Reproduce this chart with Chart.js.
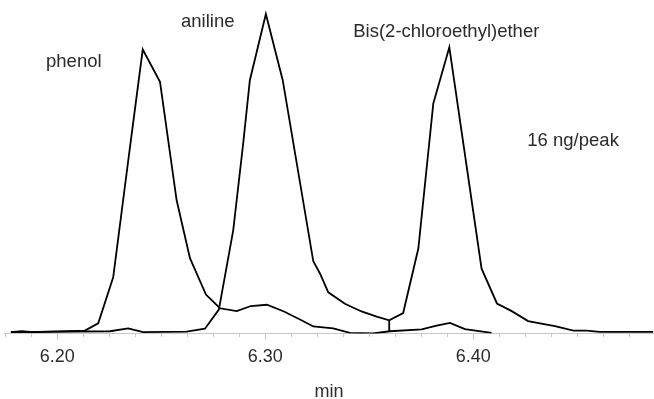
<!DOCTYPE html>
<html>
<head>
<meta charset="utf-8">
<script src="https://cdn.jsdelivr.net/npm/chart.js@4"></script>
<style>
  html, body { margin: 0; padding: 0; background: #fff; }
</style>
</head>
<body>
<canvas id="chart" width="654" height="399"></canvas>
<script>
// Retention time (min) and signal (% of largest peak)
const timePhenol = [6.1777, 6.1829, 6.1883, 6.2133, 6.2197, 6.2269, 6.2340, 6.2411, 6.2494, 6.2574,
  6.2638, 6.2715, 6.2782, 6.2863, 6.2931, 6.3008, 6.3090, 6.3167, 6.3231, 6.3327,
  6.3407, 6.3518, 6.3599, 6.3752, 6.3824, 6.3888, 6.3960, 6.4088];
const signalPhenol = [0.4, 0.7, 0.4, 0.9, 3.2, 17.6, 53.5, 88.9, 78.8, 41.7,
  23.6, 12.2, 7.9, 7.0, 8.6, 9.0, 6.9, 4.4, 2.2, 1.6,
  0.2, 0.0, 0.7, 1.3, 2.5, 3.3, 1.4, 0.2];

const timeAniline = [6.1777, 6.2253, 6.2341, 6.2413, 6.2622, 6.2710, 6.2777, 6.2846, 6.2894, 6.2926,
  6.3003, 6.3084, 6.3231, 6.3263, 6.3303, 6.3383, 6.3463, 6.3536, 6.3596, 6.3663,
  6.3736, 6.3808, 6.3885, 6.4040, 6.4114, 6.4185, 6.4264, 6.4321, 6.4393, 6.4481,
  6.4545, 6.4609, 6.4865];
const signalAniline = [0.4, 0.7, 1.6, 0.4, 0.6, 1.5, 7.5, 32.3, 59.5, 79.3,
  100, 79.3, 22.6, 18.8, 12.9, 9.3, 6.9, 5.3, 4.1, 6.4,
  26.6, 72.0, 89.6, 20.3, 9.4, 7.0, 3.9, 3.2, 2.3, 0.9,
  0.9, 0.5, 0.5];

// drop line between aniline and bis peaks
const timeDrop = [6.3596, 6.3596];
const signalDrop = [4.1, 0.6];

// axis
const majorTicks = [6.20, 6.30, 6.40];
const minorStep = 0.0125;
const axisTitle = 'min';

// peak names and where they sit (min, signal)
const peakNames = ['phenol', 'aniline', 'Bis(2-chloroethyl)ether', '16 ng/peak'];
const labelTimes = [6.1946, 6.2595, 6.3423, 6.4260];
const labelLevels = [83.4, 96.0, 92.9, 58.7];

const fontFamily = '"Liberation Sans", Arial, sans-serif';
const textColor = '#2b2b2b';
const axisColor = '#c8c8c8';

function toPoints(xs, ys) {
  return xs.map((x, i) => ({ x: x, y: ys[i] }));
}

function lineSet(xs, ys) {
  return {
    data: toPoints(xs, ys),
    borderColor: '#000',
    borderWidth: 1.8,
    borderJoinStyle: 'miter',
    pointRadius: 0,
    tension: 0,
    fill: false
  };
}

// small ticks between the labelled ones
const minorTickPlugin = {
  id: 'minorTicks',
  afterDraw(chart) {
    const xs = chart.scales.x;
    const ctx = chart.ctx;
    const bottom = chart.chartArea.bottom;
    ctx.save();
    ctx.strokeStyle = axisColor;
    ctx.lineWidth = 1;
    const start = Math.ceil(xs.min / minorStep) * minorStep;
    for (let v = start; v <= xs.max + 1e-9; v += minorStep) {
      if (majorTicks.some(m => Math.abs(m - v) < 1e-6)) continue;
      const px = Math.round(xs.getPixelForValue(v)) + 0.5;
      ctx.beginPath();
      ctx.moveTo(px, bottom);
      ctx.lineTo(px, bottom + 3.5);
      ctx.stroke();
    }
    ctx.restore();
  }
};

const peakLabelPlugin = {
  id: 'peakLabels',
  afterDatasetsDraw(chart) {
    const ctx = chart.ctx;
    const xs = chart.scales.x;
    const ys = chart.scales.y;
    ctx.save();
    ctx.font = '18.5px ' + fontFamily;
    ctx.fillStyle = textColor;
    ctx.textAlign = 'left';
    ctx.textBaseline = 'alphabetic';
    peakNames.forEach((name, i) => {
      ctx.fillText(name, xs.getPixelForValue(labelTimes[i]), ys.getPixelForValue(labelLevels[i]));
    });
    ctx.restore();
  }
};

new Chart(document.getElementById('chart'), {
  type: 'line',
  data: {
    datasets: [
      lineSet(timePhenol, signalPhenol),
      lineSet(timeAniline, signalAniline),
      lineSet(timeDrop, signalDrop)
    ]
  },
  options: {
    responsive: false,
    animation: false,
    layout: { padding: { left: 4, right: 0, top: 0, bottom: 0 } },
    plugins: {
      legend: { display: false },
      tooltip: { enabled: false }
    },
    scales: {
      x: {
        type: 'linear',
        position: 'bottom',
        min: 6.1744,
        max: 6.4869,
        afterBuildTicks: scale => {
          scale.ticks = majorTicks.map(v => ({ value: v }));
        },
        grid: { drawOnChartArea: false, tickLength: 6, color: axisColor },
        border: { color: axisColor, width: 1 },
        ticks: {
          autoSkip: false,
          maxRotation: 0,
          padding: 6.5,
          color: textColor,
          font: { family: fontFamily, size: 18 },
          callback: v => Number(v).toFixed(2)
        },
        title: {
          display: true,
          text: axisTitle,
          color: textColor,
          font: { family: fontFamily, size: 18, lineHeight: 1 },
          padding: { top: 8.9, bottom: -2 }
        }
      },
      y: {
        display: false,
        min: 0,
        max: 104.4
      }
    }
  },
  plugins: [minorTickPlugin, peakLabelPlugin]
});
</script>
</body>
</html>
